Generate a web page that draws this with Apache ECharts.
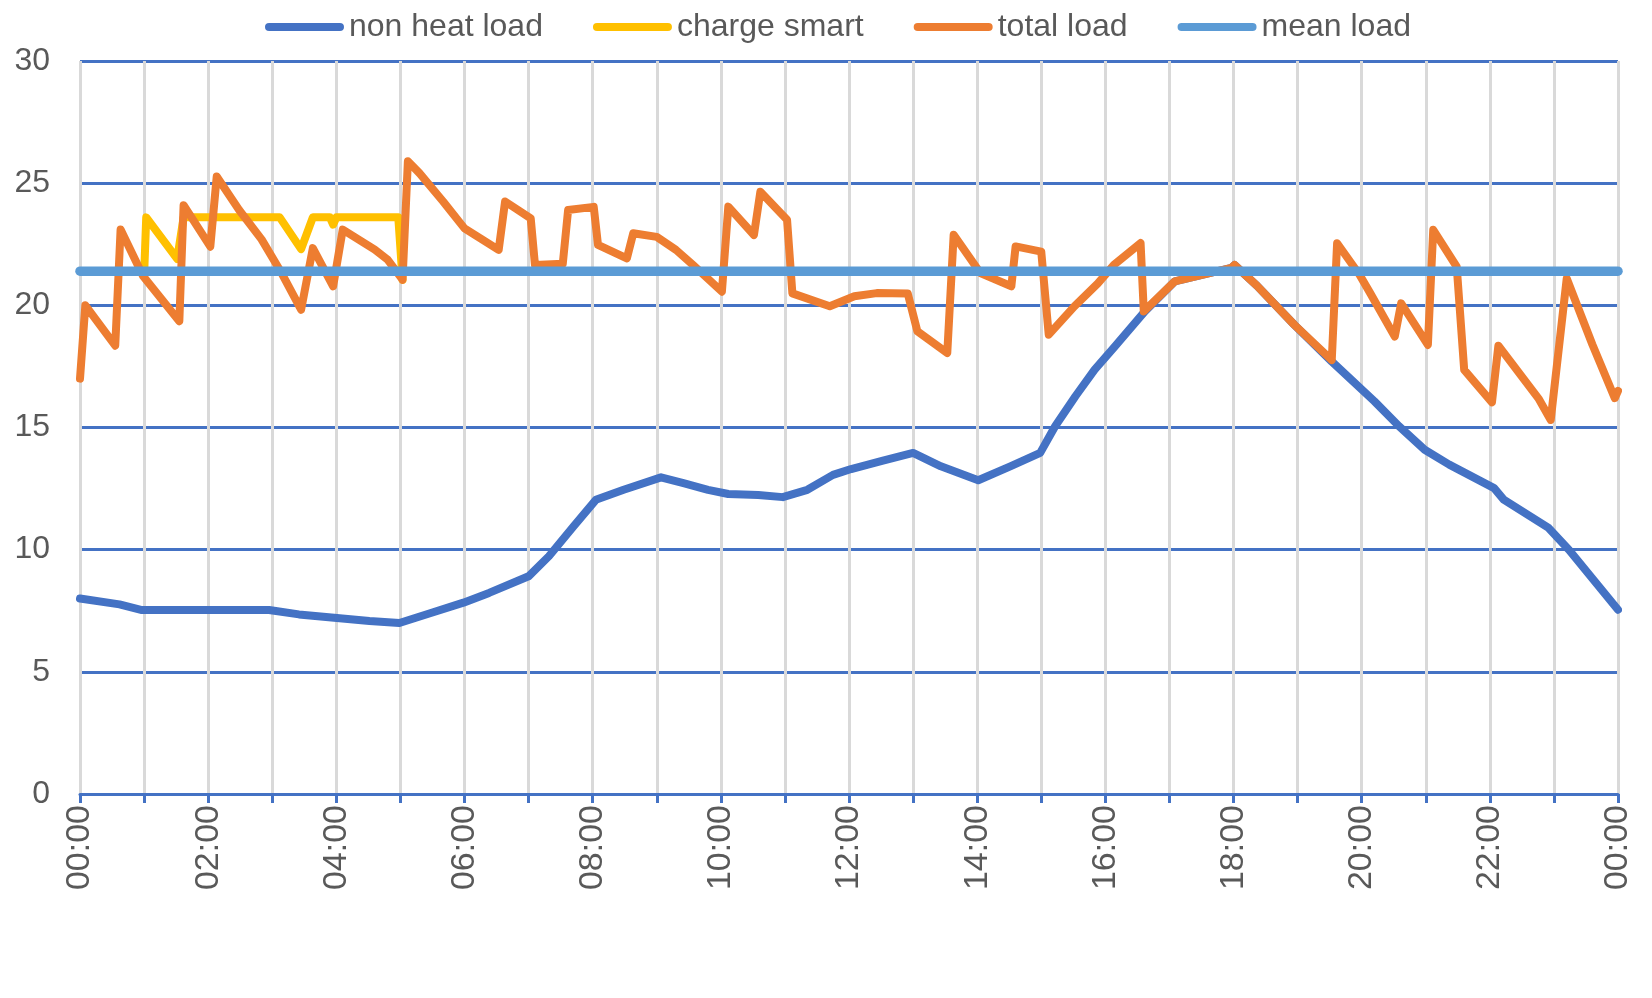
<!DOCTYPE html>
<html><head><meta charset="utf-8">
<script src="https://cdn.jsdelivr.net/npm/echarts@6/dist/echarts.min.js"></script>
<style>html,body{margin:0;padding:0;background:#fff}#c{width:1652px;height:998px}</style>
</head><body><div id="c"></div>
<script>
// minutes since 00:00 and load values
const seriesNames = ['non heat load', 'charge smart', 'total load', 'mean load'];

const nonHeatTimes  = [0, 37, 58, 177, 205, 238, 271, 299, 327, 359, 383, 420, 439, 462, 483, 509, 544, 565, 588, 607, 635, 658, 681, 705, 722, 750, 780, 806, 841, 871, 899, 913, 932, 950, 969, 997, 1025, 1078, 1081, 1102, 1137, 1172, 1212, 1235, 1259, 1282, 1324, 1333, 1375, 1394, 1417, 1440];
const nonHeatValues = [8.0, 7.76, 7.53, 7.53, 7.35, 7.21, 7.08, 7.0, 7.39, 7.83, 8.23, 8.91, 9.73, 10.95, 12.04, 12.45, 12.96, 12.72, 12.45, 12.28, 12.24, 12.15, 12.45, 13.06, 13.3, 13.62, 13.96, 13.41, 12.84, 13.41, 13.96, 15.05, 16.28, 17.37, 18.32, 19.75, 20.98, 21.53, 21.65, 20.8, 19.2, 17.7, 16.07, 15.05, 14.09, 13.48, 12.52, 12.05, 10.89, 10.0, 8.77, 7.54];

const chargeTimes  = [60, 62, 91, 97, 187, 207, 218, 234, 237, 240, 298, 302];
const chargeValues = [21.2, 23.6, 21.9, 23.6, 23.6, 22.3, 23.6, 23.6, 23.3, 23.6, 23.6, 21.05];

const totalTimes  = [0, 5, 33, 38, 59, 93, 97, 122, 128, 149, 170, 189, 207, 218, 237, 246, 276, 288, 302, 307, 318, 340, 360, 392, 398, 422, 426, 452, 457, 481, 485, 512, 518, 540, 558, 574, 601, 607, 631, 637, 662, 667, 702, 725, 746, 775, 784, 812, 818, 843, 872, 876, 900, 907, 931, 953, 968, 993, 996, 1025, 1078, 1081, 1102, 1137, 1172, 1177, 1198, 1208, 1231, 1237, 1262, 1267, 1289, 1296, 1322, 1328, 1366, 1377, 1392, 1416, 1437, 1440];
const totalValues = [17.0, 20.0, 18.35, 23.1, 21.2, 19.35, 24.1, 22.4, 25.27, 23.9, 22.7, 21.3, 19.82, 22.34, 20.78, 23.1, 22.28, 21.87, 21.05, 25.9, 25.4, 24.25, 23.15, 22.27, 24.25, 23.56, 21.65, 21.7, 23.9, 24.03, 22.47, 21.92, 22.95, 22.8, 22.27, 21.65, 20.56, 24.04, 22.88, 24.65, 23.5, 20.49, 19.96, 20.37, 20.5, 20.48, 18.94, 18.05, 22.89, 21.32, 20.78, 22.41, 22.2, 18.8, 19.96, 20.9, 21.66, 22.55, 19.75, 20.98, 21.53, 21.65, 20.8, 19.2, 17.76, 22.54, 21.25, 20.5, 18.72, 20.08, 18.38, 23.09, 21.58, 17.36, 16.03, 18.35, 16.16, 15.31, 21.1, 18.4, 16.2, 16.5];

const meanTimes  = [0, 1440];
const meanValues = [21.4, 21.4];

const xTickLabels = ['00:00','02:00','04:00','06:00','08:00','10:00','12:00','14:00','16:00','18:00','20:00','22:00','00:00'];

const colors = ['#4472C4', '#FFC000', '#ED7D31', '#5B9BD5'];
const widths = [8, 8, 8, 9.5];

function zip(t, v) { return t.map((x, i) => [x, v[i]]); }
const allData = [
  zip(nonHeatTimes, nonHeatValues),
  zip(chargeTimes, chargeValues),
  zip(totalTimes, totalValues),
  zip(meanTimes, meanValues)
];

const textColor = '#595959';
const fontFamily = '"Liberation Sans", Arial, sans-serif';

const chart = echarts.init(document.getElementById('c'), null, { renderer: 'canvas' });
chart.setOption({
  animation: false,
  backgroundColor: '#ffffff',
  textStyle: { fontFamily: fontFamily },
  legend: {
    left: 260, top: 6,
    itemWidth: 79, itemHeight: 9, itemGap: 50,
    icon: 'path://M4,0L73,0A4,4,0,0,1,73,8L4,8A4,4,0,0,1,4,0Z',
    textStyle: { color: textColor, fontSize: 32, fontFamily: fontFamily },
    data: seriesNames
  },
  grid: { left: 80, right: 34, top: 61, bottom: 204, containLabel: false },
  xAxis: {
    type: 'value', min: 0, max: 1440, interval: 60, z: 1,
    axisLine: { show: true, lineStyle: { color: '#4472C4', width: 3 } },
    axisTick: { show: true, length: 9, lineStyle: { color: '#4472C4', width: 3 } },
    splitLine: { show: true, lineStyle: { color: '#D9D9D9', width: 3 } },
    axisLabel: {
      rotate: 90, margin: 11, color: textColor, fontSize: 34, fontFamily: fontFamily,
      formatter: v => (v % 120 === 0 ? xTickLabels[v / 120] : '')
    }
  },
  yAxis: {
    type: 'value', min: 0, max: 30, interval: 5, z: 0,
    axisLine: { show: false }, axisTick: { show: false },
    splitLine: { show: true, lineStyle: { color: '#4472C4', width: 3 } },
    axisLabel: { margin: 30, color: textColor, fontSize: 32, fontFamily: fontFamily }
  },
  series: allData.map((d, i) => ({
    name: seriesNames[i], type: 'line', data: d,
    symbol: 'none', showSymbol: false, clip: false,
    color: colors[i],
    itemStyle: { color: colors[i] },
    lineStyle: { color: colors[i], width: widths[i], cap: 'round', join: 'round' }
  }))
});
</script></body></html>
